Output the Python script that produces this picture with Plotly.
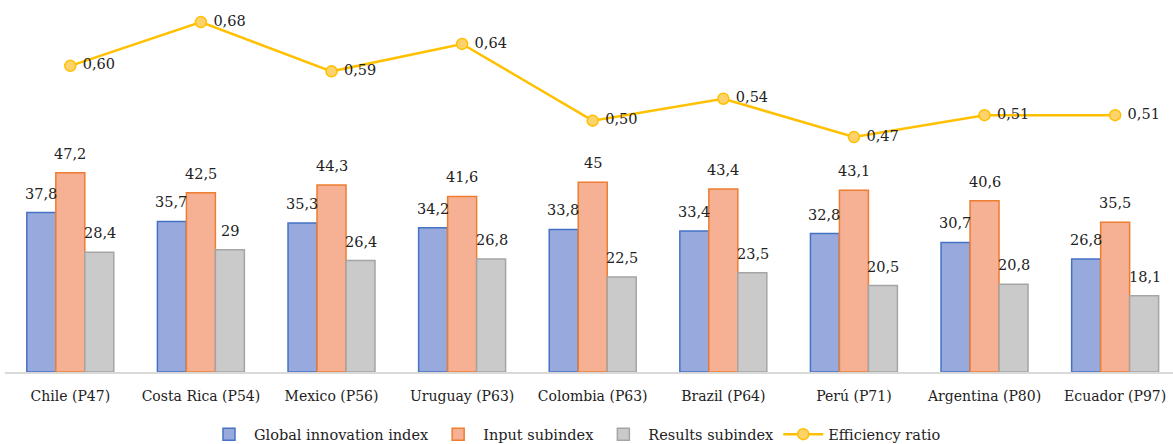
import plotly.graph_objects as go

countries = ["Chile (P47)", "Costa Rica (P54)", "Mexico (P56)", "Uruguay (P63)",
             "Colombia (P63)", "Brazil (P64)", "Perú (P71)", "Argentina (P80)", "Ecuador (P97)"]
gii = [37.8, 35.7, 35.3, 34.2, 33.8, 33.4, 32.8, 30.7, 26.8]
inp = [47.2, 42.5, 44.3, 41.6, 45, 43.4, 43.1, 40.6, 35.5]
res = [28.4, 29, 26.4, 26.8, 22.5, 23.5, 20.5, 20.8, 18.1]
ratio = [0.60, 0.68, 0.59, 0.64, 0.50, 0.54, 0.47, 0.51, 0.51]

FONT = "DejaVu Serif"
FS = 14.5


def fmt(v):
    s = ("%g" % v)
    return s.replace(".", ",")


fig = go.Figure()
series = [
    ("Global innovation index", gii, "#98AADD", "#4472C4"),
    ("Input subindex", inp, "#F6B093", "#ED7D31"),
    ("Results subindex", res, "#CACACA", "#A5A5A5"),
]
for name, vals, fill, line in series:
    fig.add_trace(go.Bar(
        x=countries, y=vals, name=name,
        marker=dict(color=fill, line=dict(color=line, width=1.5)),
    ))

fig.add_trace(go.Scatter(
    x=countries, y=ratio, name="Efficiency ratio", yaxis="y2",
    mode="lines+markers+text",
    text=[" " + ("%.2f" % v).replace(".", ",") for v in ratio],
    textposition="middle right",
    textfont=dict(family=FONT, size=FS, color="#222"),
    line=dict(color="#FFC000", width=2.5),
    marker=dict(size=11, color="#FFD36B", line=dict(color="#FFC000", width=1.5)),
))

annotations = []
offsets = [-29.5, 0, 29.5]
for k, (name, vals, fill, line) in enumerate(series):
    for c, v in zip(countries, vals):
        annotations.append(dict(
            x=c, y=v, xref="x", yref="y", text=fmt(v), showarrow=False,
            xshift=offsets[k], yshift=19, yanchor="middle",
            font=dict(family=FONT, size=FS, color="#222"),
        ))

fig.update_layout(
    width=1173, height=444,
    margin=dict(l=5, r=0, t=10, b=72),
    paper_bgcolor="white", plot_bgcolor="white",
    barmode="group", bargap=0.334, bargroupgap=0,
    font=dict(family=FONT, size=FS, color="#222"),
    xaxis=dict(range=[-0.5, 8.443], showline=True, linecolor="#D9D9D9", linewidth=1.5,
               ticks="", ticklabelstandoff=10,
               tickfont=dict(family=FONT, size=14, color="#222"), showgrid=False),
    yaxis=dict(range=[0, 85.8], visible=False, showgrid=False),
    yaxis2=dict(range=[0.041, 0.702], overlaying="y", side="right", visible=False, showgrid=False),
    legend=dict(orientation="h", x=0.488, xanchor="center", yref="container", y=0.022,
                yanchor="middle", itemwidth=40,
                font=dict(family=FONT, size=FS, color="#222"),
                traceorder="normal"),
    annotations=annotations,
    showlegend=True,
)

fig.write_html("out.html")
